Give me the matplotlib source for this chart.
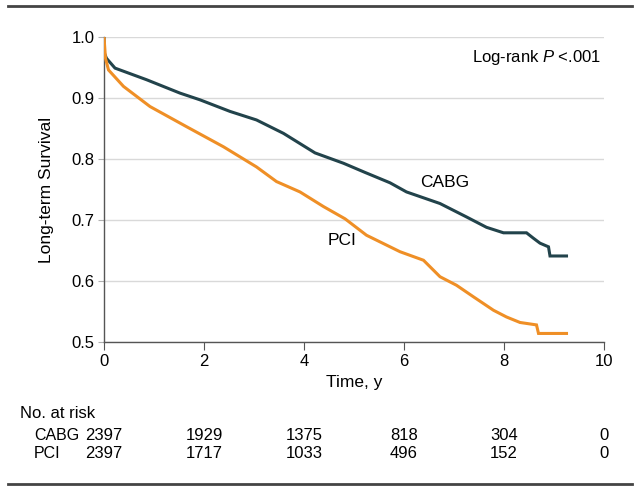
import matplotlib
matplotlib.use("Agg")
import matplotlib.pyplot as plt
from matplotlib.lines import Line2D

# no condensed face installed, Liberation Sans is the narrowest one available
plt.rcParams['font.family'] = ['Liberation Sans', 'DejaVu Sans']
plt.rcParams['mathtext.fontset'] = 'custom'
plt.rcParams['mathtext.rm'] = 'Liberation Sans'
plt.rcParams['mathtext.it'] = 'Liberation Sans:italic'

# survival curves (years, survival)
cabg_t = [0, 0.0, 0.05, 0.22, 0.85, 1.52, 1.92, 2.52, 3.05, 3.59, 4.22, 4.79,
          5.22, 5.72, 6.05, 6.72, 7.25, 7.65, 7.99, 8.45, 8.59, 8.72, 8.89, 8.92, 9.25]
cabg_s = [1.0, 0.975, 0.965, 0.949, 0.930, 0.908, 0.897, 0.878, 0.864, 0.842, 0.810, 0.793,
          0.778, 0.761, 0.746, 0.727, 0.705, 0.688, 0.679, 0.679, 0.670, 0.662, 0.656, 0.641, 0.641]

pci_t = [0, 0.03, 0.09, 0.39, 0.92, 1.65, 2.39, 3.05, 3.45, 3.92, 4.39, 4.82,
         5.25, 5.92, 6.39, 6.72, 7.05, 7.39, 7.79, 8.05, 8.32, 8.65, 8.69, 9.25]
pci_s = [1.0, 0.965, 0.946, 0.919, 0.886, 0.853, 0.820, 0.787, 0.763, 0.746, 0.722, 0.702,
         0.675, 0.648, 0.634, 0.607, 0.593, 0.574, 0.552, 0.541, 0.532, 0.528, 0.514, 0.514]

# number at risk table
risk_times = [0, 2, 4, 6, 8, 10]
risk_cabg = [2397, 1929, 1375, 818, 304, 0]
risk_pci = [2397, 1717, 1033, 496, 152, 0]

cabg_col = '#22434b'
pci_col = '#ef8f26'
fs = 12

fig = plt.figure(figsize=(6.4, 4.92), dpi=100)
ax = fig.add_axes([0.1625, 0.3049, 0.78125, 0.6199])

ax.plot(cabg_t, cabg_s, color=cabg_col, lw=2.2, solid_joinstyle='miter', zorder=3)
ax.plot(pci_t, pci_s, color=pci_col, lw=2.2, solid_joinstyle='miter', zorder=3)

ax.set_xlim(0, 10)
ax.set_ylim(0.5, 1.0)
ax.set_xticks(risk_times)
ax.set_yticks([0.5, 0.6, 0.7, 0.8, 0.9, 1.0])
ax.set_yticklabels(['0.5', '0.6', '0.7', '0.8', '0.9', '1.0'])
ax.grid(axis='y', color='#d9d9d9', lw=1)
ax.set_axisbelow(True)
for s in ['top', 'right']:
    ax.spines[s].set_visible(False)
for s in ['left', 'bottom']:
    ax.spines[s].set_color('#555555')
    ax.spines[s].set_linewidth(1)
ax.tick_params(axis='y', length=4, color='#b0b0b0', pad=3, labelsize=fs)
ax.tick_params(axis='x', length=6, direction='out', color='#555555', labelsize=fs, pad=3)
ax.set_xlabel('Time, y', fontsize=fs + 0.5, labelpad=4)
ax.set_ylabel('Long-term Survival', fontsize=fs + 0.5, labelpad=12)

ax.text(9.95, 0.967, 'Log-rank $\\it{P}$ <.001', ha='right', va='center', fontsize=fs)
ax.text(6.32, 0.761, 'CABG', ha='left', va='center', fontsize=fs + 0.5)
ax.text(4.48, 0.666, 'PCI', ha='left', va='center', fontsize=fs + 0.5)

# risk table under the axis
fig.text(20 / 640, 1 - 413 / 492, 'No. at risk', ha='left', va='center', fontsize=fs)
fig.text(34 / 640, 1 - 435 / 492, 'CABG', ha='left', va='center', fontsize=fs - 0.5)
fig.text(34 / 640, 1 - 453 / 492, 'PCI', ha='left', va='center', fontsize=fs - 0.5)
x0 = 104 / 640
xw = 500 / 640
for t, a, b in zip(risk_times, risk_cabg, risk_pci):
    fx = x0 + xw * t / 10
    fig.text(fx, 1 - 435 / 492, str(a), ha='center', va='center', fontsize=fs)
    fig.text(fx, 1 - 453 / 492, str(b), ha='center', va='center', fontsize=fs)

# rules at top and bottom of the panel
fig.add_artist(Line2D([8 / 640, 632 / 640], [1 - 6 / 492, 1 - 6 / 492], color='#444444', lw=2))
fig.add_artist(Line2D([8 / 640, 632 / 640], [1 - 484 / 492, 1 - 484 / 492], color='#444444', lw=2))

fig.savefig('out.png', dpi=100)
